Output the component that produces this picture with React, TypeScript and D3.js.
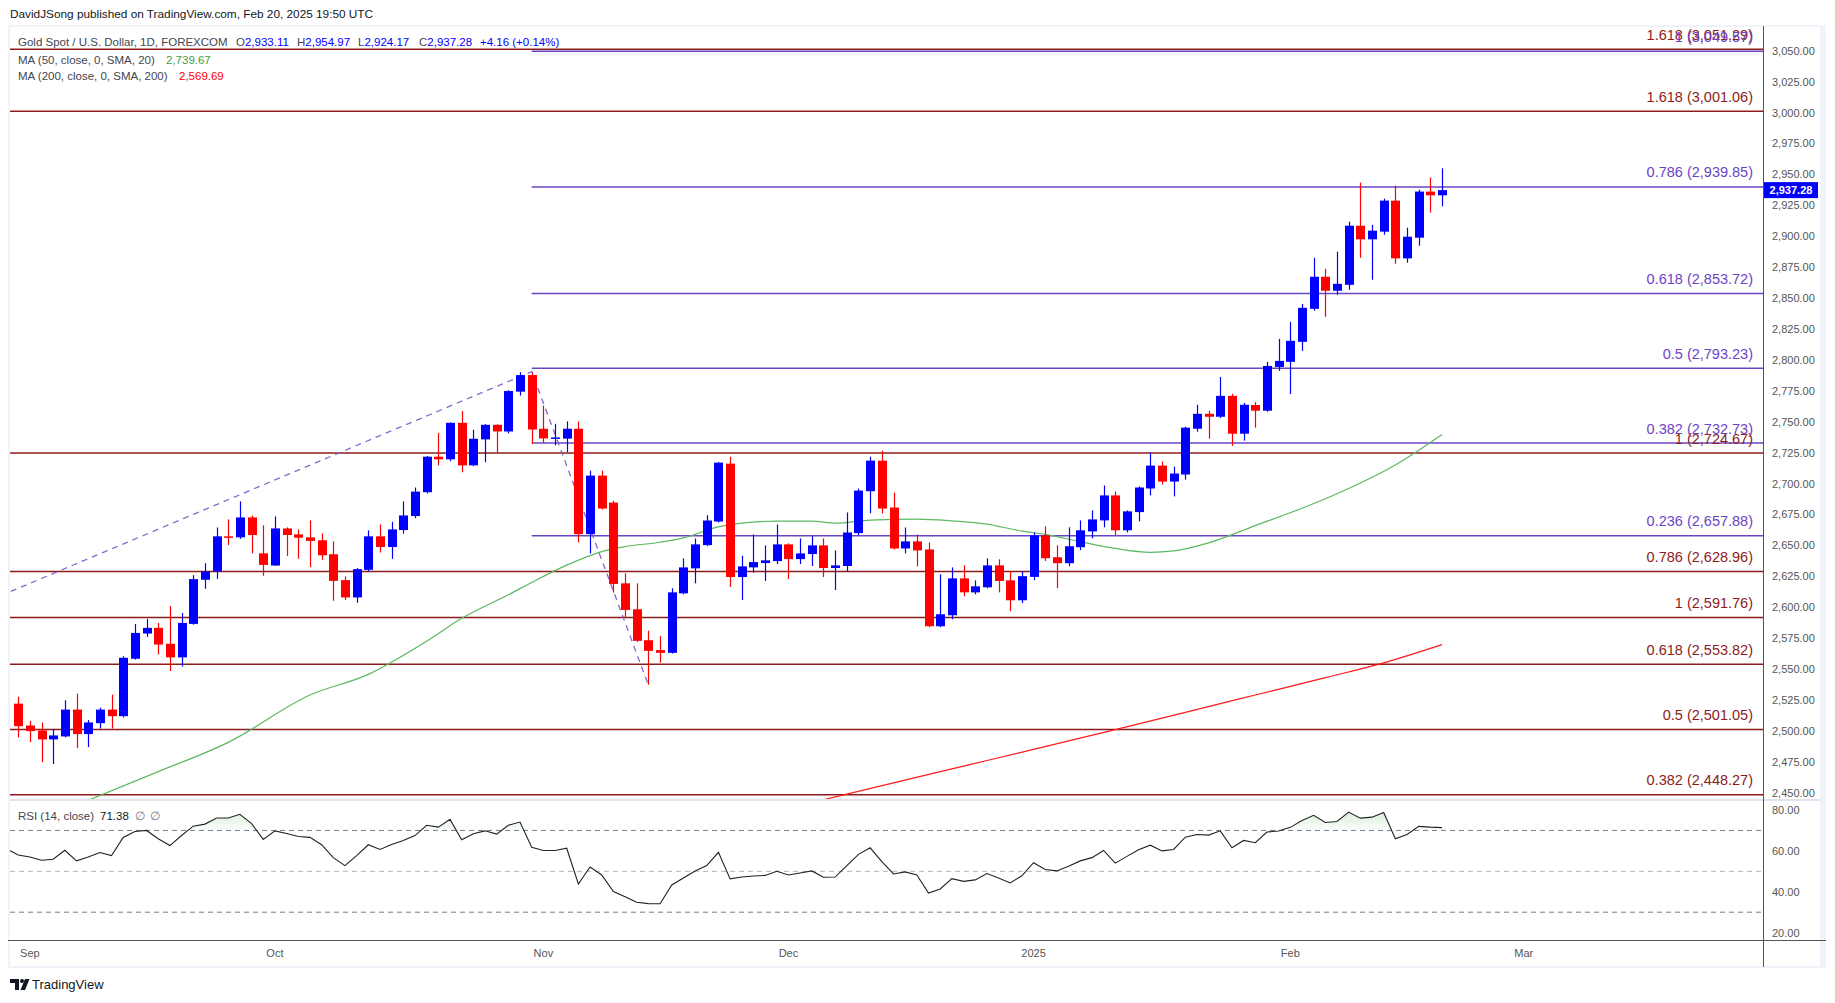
import React from 'react';
import * as d3 from 'd3';

// daily bars, Gold Spot / USD (FOREXCOM)
const dates: string[] = [
  '2024-08-30',
  '2024-09-02', '2024-09-03', '2024-09-04', '2024-09-05', '2024-09-06',
  '2024-09-09', '2024-09-10', '2024-09-11', '2024-09-12', '2024-09-13',
  '2024-09-16', '2024-09-17', '2024-09-18', '2024-09-19', '2024-09-20',
  '2024-09-23', '2024-09-24', '2024-09-25', '2024-09-26', '2024-09-27',
  '2024-09-30', '2024-10-01', '2024-10-02', '2024-10-03', '2024-10-04',
  '2024-10-07', '2024-10-08', '2024-10-09', '2024-10-10', '2024-10-11',
  '2024-10-14', '2024-10-15', '2024-10-16', '2024-10-17', '2024-10-18',
  '2024-10-21', '2024-10-22', '2024-10-23', '2024-10-24', '2024-10-25',
  '2024-10-28', '2024-10-29', '2024-10-30', '2024-10-31', '2024-11-01',
  '2024-11-04', '2024-11-05', '2024-11-06', '2024-11-07', '2024-11-08',
  '2024-11-11', '2024-11-12', '2024-11-13', '2024-11-14', '2024-11-15',
  '2024-11-18', '2024-11-19', '2024-11-20', '2024-11-21', '2024-11-22',
  '2024-11-25', '2024-11-26', '2024-11-27', '2024-11-28', '2024-11-29',
  '2024-12-02', '2024-12-03', '2024-12-04', '2024-12-05', '2024-12-06',
  '2024-12-09', '2024-12-10', '2024-12-11', '2024-12-12', '2024-12-13',
  '2024-12-16', '2024-12-17', '2024-12-18', '2024-12-19', '2024-12-20',
  '2024-12-23', '2024-12-24', '2024-12-26', '2024-12-27', '2024-12-30',
  '2024-12-31', '2025-01-02', '2025-01-03', '2025-01-06', '2025-01-07',
  '2025-01-08', '2025-01-09', '2025-01-10', '2025-01-13', '2025-01-14',
  '2025-01-15', '2025-01-16', '2025-01-17', '2025-01-20', '2025-01-21',
  '2025-01-22', '2025-01-23', '2025-01-24', '2025-01-27', '2025-01-28',
  '2025-01-29', '2025-01-30', '2025-01-31', '2025-02-03', '2025-02-04',
  '2025-02-05', '2025-02-06', '2025-02-07', '2025-02-10', '2025-02-11',
  '2025-02-12', '2025-02-13', '2025-02-14', '2025-02-17', '2025-02-18',
  '2025-02-19', '2025-02-20',
];

const opens: number[] = [
  2522.0,
  2504.3, 2500.3, 2493.1, 2495.5, 2517.2,
  2497.4, 2506.2, 2517.2, 2511.9, 2558.3,
  2578.7, 2583.3, 2570.4, 2559.4, 2586.5,
  2622.2, 2628.9, 2657.3, 2656.5, 2672.6,
  2643.6, 2633.7, 2663.7, 2658.9, 2656.5,
  2654.1, 2642.8, 2621.9, 2607.9, 2630.2,
  2657.3, 2648.7, 2662.4, 2673.7, 2693.0,
  2721.7, 2719.6, 2749.1, 2714.7, 2735.7,
  2747.5, 2742.1, 2774.3, 2787.7, 2744.3,
  2736.8, 2736.3, 2744.3, 2659.1, 2706.4,
  2684.6, 2619.3, 2598.3, 2573.3, 2565.3,
  2563.1, 2611.2, 2631.4, 2650.2, 2669.3,
  2716.1, 2624.4, 2632.2, 2635.7, 2637.3,
  2650.8, 2638.9, 2643.0, 2650.0, 2631.7,
  2633.3, 2659.9, 2693.8, 2718.5, 2680.6,
  2647.5, 2653.2, 2646.7, 2584.6, 2593.5,
  2623.3, 2612.0, 2616.1, 2633.8, 2621.7,
  2605.6, 2624.5, 2658.1, 2640.4, 2635.6,
  2648.5, 2661.3, 2670.2, 2690.4, 2662.2,
  2676.9, 2696.0, 2714.5, 2701.6, 2707.3,
  2744.3, 2756.4, 2754.0, 2770.9, 2740.3,
  2763.5, 2758.9, 2794.3, 2798.4, 2814.6,
  2841.3, 2867.2, 2855.9, 2860.7, 2908.5,
  2897.5, 2903.7, 2928.8, 2882.1, 2898.8,
  2936.1, 2933.11,
];

const highs: number[] = [
  2527.7,
  2508.1, 2506.8, 2501.4, 2524.7, 2530.1,
  2508.7, 2518.8, 2529.3, 2560.4, 2586.5,
  2590.5, 2587.3, 2600.9, 2595.3, 2625.9,
  2635.6, 2664.5, 2671.0, 2685.5, 2674.0,
  2666.2, 2673.4, 2664.5, 2662.9, 2670.2,
  2659.7, 2653.3, 2624.8, 2631.6, 2662.1,
  2667.0, 2669.1, 2685.5, 2696.8, 2722.3,
  2740.8, 2749.5, 2758.7, 2743.5, 2748.0,
  2748.0, 2775.5, 2790.1, 2789.9, 2763.1,
  2748.3, 2750.2, 2750.2, 2710.4, 2710.4,
  2686.0, 2627.4, 2619.3, 2581.1, 2576.6,
  2615.3, 2639.5, 2655.6, 2674.4, 2717.5,
  2721.7, 2641.6, 2658.8, 2650.0, 2666.9,
  2651.6, 2655.6, 2657.5, 2655.6, 2645.9,
  2676.6, 2695.9, 2721.7, 2726.6, 2692.7,
  2664.5, 2658.8, 2652.4, 2626.6, 2632.2,
  2633.8, 2621.7, 2639.5, 2638.7, 2629.0,
  2628.9, 2660.5, 2665.4, 2650.1, 2664.6,
  2670.2, 2678.3, 2698.4, 2693.6, 2678.3,
  2697.6, 2725.0, 2717.8, 2713.7, 2746.0,
  2763.7, 2758.8, 2786.2, 2772.6, 2765.3,
  2765.9, 2798.4, 2817.0, 2830.8, 2845.3,
  2882.6, 2873.7, 2887.5, 2911.8, 2943.4,
  2909.3, 2930.4, 2940.9, 2906.9, 2937.7,
  2947.4, 2954.97,
];

const lows: number[] = [
  2494.7,
  2490.9, 2474.6, 2473.2, 2494.7, 2486.1,
  2486.9, 2501.9, 2501.9, 2510.8, 2557.7,
  2576.0, 2561.8, 2548.4, 2552.1, 2585.9,
  2614.9, 2622.9, 2650.3, 2655.2, 2643.6,
  2625.4, 2633.4, 2641.5, 2639.1, 2632.4,
  2638.3, 2605.2, 2605.8, 2603.6, 2628.9,
  2644.2, 2639.1, 2659.5, 2672.0, 2692.0,
  2714.7, 2718.0, 2709.1, 2714.0, 2717.2,
  2724.9, 2740.5, 2771.1, 2732.2, 2733.0,
  2730.9, 2725.5, 2652.4, 2643.5, 2679.0,
  2611.8, 2591.1, 2572.0, 2537.3, 2555.1,
  2562.5, 2610.4, 2619.3, 2649.4, 2668.5,
  2616.4, 2605.9, 2627.9, 2621.2, 2634.9,
  2622.8, 2634.9, 2633.3, 2624.4, 2613.9,
  2628.7, 2658.3, 2676.0, 2675.8, 2646.7,
  2643.5, 2633.0, 2583.8, 2583.8, 2590.3,
  2608.8, 2610.4, 2615.3, 2612.0, 2596.7,
  2603.3, 2621.9, 2637.4, 2615.4, 2633.1,
  2646.1, 2655.7, 2664.6, 2658.1, 2660.5,
  2669.4, 2690.4, 2699.2, 2689.6, 2703.2,
  2741.9, 2736.3, 2753.0, 2730.6, 2734.7,
  2745.2, 2758.1, 2791.1, 2772.4, 2807.3,
  2839.7, 2834.8, 2852.6, 2856.7, 2882.6,
  2864.8, 2901.2, 2877.7, 2878.6, 2892.3,
  2919.1, 2924.17,
];

const closes: number[] = [
  2503.8,
  2499.8, 2493.1, 2496.3, 2517.2, 2497.4,
  2506.8, 2517.2, 2511.9, 2559.1, 2579.2,
  2583.3, 2569.8, 2559.4, 2587.3, 2622.7,
  2628.9, 2657.3, 2656.5, 2672.6, 2658.4,
  2634.2, 2663.7, 2658.4, 2656.2, 2653.6,
  2642.0, 2621.3, 2607.9, 2630.8, 2657.3,
  2648.7, 2662.9, 2674.2, 2693.5, 2721.7,
  2719.6, 2749.1, 2714.7, 2736.2, 2747.5,
  2742.1, 2774.8, 2787.7, 2743.7, 2736.5,
  2737.3, 2744.3, 2659.1, 2706.4, 2679.8,
  2618.8, 2597.8, 2572.8, 2564.7, 2563.1,
  2612.0, 2632.2, 2650.8, 2670.1, 2716.9,
  2624.4, 2633.0, 2636.5, 2637.9, 2650.8,
  2638.9, 2643.5, 2650.0, 2631.7, 2633.8,
  2660.4, 2694.3, 2718.5, 2679.8, 2647.5,
  2653.2, 2645.9, 2584.6, 2594.3, 2623.3,
  2612.0, 2616.9, 2633.8, 2621.2, 2605.6,
  2625.1, 2658.1, 2639.6, 2635.6, 2649.3,
  2662.2, 2671.0, 2690.4, 2662.2, 2677.5,
  2696.8, 2714.5, 2701.6, 2708.1, 2745.2,
  2756.4, 2754.0, 2770.9, 2740.3, 2763.7,
  2758.9, 2795.1, 2799.2, 2815.4, 2842.1,
  2867.2, 2855.9, 2861.5, 2908.5, 2897.5,
  2904.5, 2928.8, 2882.1, 2899.6, 2936.1,
  2933.1, 2937.28,
];

// RSI (14, close), one value per bar; rsiBefore is the bar left of the window
const rsiBefore = 61.0;
const rsiValues: number[] = [
  58.0,
  57.0, 55.4, 55.9, 60.3, 55.1,
  57.0, 59.2, 57.7, 66.6, 69.5,
  70.0, 65.9, 62.6, 67.5, 72.1,
  73.1, 76.1, 76.1, 77.9, 73.3,
  65.6, 69.8, 68.5, 67.0, 66.6,
  63.0, 56.7, 52.8, 57.7, 63.0,
  60.7, 63.1, 65.1, 67.5, 72.5,
  71.6, 75.4, 65.4, 68.4, 69.8,
  68.2, 72.5, 74.1, 61.8, 60.2,
  60.2, 61.3, 43.8, 52.1, 48.2,
  40.1, 37.6, 34.9, 34.2, 34.1,
  43.3, 46.7, 50.2, 52.8, 59.3,
  46.3, 47.2, 47.7, 48.0, 50.0,
  48.2, 49.2, 50.2, 47.1, 47.2,
  52.8, 58.3, 61.5, 54.7, 48.7,
  49.7, 48.2, 39.4, 41.4, 46.4,
  45.1, 45.8, 48.9, 46.7, 44.3,
  47.8, 54.2, 50.9, 50.2, 52.5,
  55.1, 56.7, 60.2, 54.0, 57.3,
  60.5, 62.8, 60.0, 60.7, 66.7,
  68.0, 67.7, 69.8, 61.5, 65.1,
  64.0, 69.2, 69.7, 71.5, 74.9,
  77.4, 73.9, 74.4, 79.0, 76.0,
  76.5, 78.8, 65.9, 68.0, 72.0,
  71.6, 71.38,
];

// moving averages, sampled along the plotted lines
const ma50Dates = [
  '2024-09-06', '2024-09-17', '2024-09-25', '2024-10-04', '2024-10-11', '2024-10-18',
  '2024-10-23', '2024-10-29', '2024-10-31', '2024-11-05', '2024-11-08', '2024-11-12',
  '2024-11-15', '2024-11-19', '2024-11-22', '2024-11-26', '2024-11-29', '2024-12-04',
  '2024-12-06', '2024-12-11', '2024-12-17', '2024-12-20', '2024-12-26', '2024-12-31',
  '2025-01-03', '2025-01-08', '2025-01-13', '2025-01-16', '2025-01-20', '2025-01-23',
  '2025-01-29', '2025-02-04', '2025-02-10', '2025-02-14', '2025-02-20',
];
const ma50Values = [
  2440.0, 2467.0, 2490.7, 2529.0, 2545.7, 2572.5,
  2591.0, 2610.0, 2620.0, 2634.0, 2645.0, 2649.0,
  2652.5, 2656.0, 2665.0, 2668.0, 2669.6, 2669.6,
  2668.0, 2670.4, 2671.2, 2669.8, 2667.2, 2661.5,
  2658.9, 2653.0, 2647.5, 2644.4, 2645.5, 2652.0,
  2666.0, 2680.0, 2696.0, 2715.0, 2739.67,
];

const ma200Dates = [
  '2024-12-05', '2024-12-13', '2024-12-23', '2025-01-02', '2025-01-13',
  '2025-01-21', '2025-01-29', '2025-02-06', '2025-02-13', '2025-02-20',
];
const ma200Values = [
  2444.3, 2458.0, 2471.5, 2485.0, 2501.0,
  2515.0, 2529.0, 2543.0, 2555.0, 2569.69,
];

// fibonacci levels
const redFibRatios = ['1.618', '1.618', '1', '0.786', '1', '0.618', '0.5', '0.382'];
const redFibPrices = [3051.29, 3001.06, 2724.67, 2628.96, 2591.76, 2553.82, 2501.05, 2448.27];
const purpleFibRatios = ['1', '0.786', '0.618', '0.5', '0.382', '0.236'];
const purpleFibPrices = [3049.57, 2939.85, 2853.72, 2793.23, 2732.73, 2657.88];
const purpleFibStart = '2024-10-31';

// dashed swing lines
const swingDates = ['2024-08-30', '2024-10-31', '2024-11-14'];
const swingPrices = [2615.3, 2790.5, 2536.9];

const priceTicks = [
  2450, 2475, 2500, 2525, 2550, 2575, 2600, 2625, 2650, 2675, 2700, 2725,
  2750, 2775, 2800, 2825, 2850, 2875, 2900, 2925, 2950, 2975, 3000, 3025, 3050,
];
const rsiTicks = [20, 40, 60, 80];
const rsiBands = [70, 50, 30];
const timeTickLabels = ['Sep', 'Oct', 'Nov', 'Dec', '2025', 'Feb', 'Mar'];
const timeTickDates = ['2024-09-02', '2024-10-01', '2024-11-01', '2024-12-02', '2025-01-02', '2025-02-03', '2025-03-03'];

const lastPrice = 2937.28;

const W = 1835;
const H = 1003;
const plotL = 10;
const plotR = 1763;
const priceTop = 26;
const priceBot = 799;
const rsiTop = 801;
const rsiBot = 940;
const axisBot = 967;

const UP = '#0000ff';
const DOWN = '#ff0000';
const FIB_RED = '#8c1c1c';
const FIB_PURPLE = '#6b44c6';
const AXIS_TEXT = '#555';
const FONT = '"Liberation Sans", Arial, sans-serif';

// bar index of a date; dates past the data count forward in weekdays
function barIndex(date: string): number {
  const i = dates.indexOf(date);
  if (i >= 0) return i;
  const last = new Date(dates[dates.length - 1] + 'T00:00:00Z');
  const target = new Date(date + 'T00:00:00Z');
  let n = dates.length - 1;
  const d = new Date(last);
  while (d < target) {
    d.setUTCDate(d.getUTCDate() + 1);
    const wd = d.getUTCDay();
    if (wd !== 0 && wd !== 6) n++;
  }
  return n;
}

const fmt = d3.format(',.2f');

const App: React.FC = () => {
  const x = d3.scaleLinear().domain([-0.7, 149.5]).range([plotL, plotR]);
  const y = d3.scaleLinear().domain([2444.9, 3070]).range([priceBot, priceTop]);
  const yr = d3.scaleLinear().domain([16.4, 84.4]).range([rsiBot, rsiTop]);

  const step = x(1) - x(0);
  const bodyW = Math.round(step * 0.73);

  const maLine = d3.line<[number, number]>()
    .x(d => x(d[0]))
    .y(d => y(d[1]))
    .curve(d3.curveMonotoneX);

  const ma50Path = maLine(ma50Dates.map((d, i) => [barIndex(d), ma50Values[i]] as [number, number])) || '';
  const ma200Path = maLine(ma200Dates.map((d, i) => [barIndex(d), ma200Values[i]] as [number, number])) || '';

  const rsiPts: [number, number][] = [[-1, rsiBefore], ...rsiValues.map((v, i) => [i, v] as [number, number])];
  const rsiLine = d3.line<[number, number]>().x(d => x(d[0])).y(d => yr(d[1]));
  const rsiArea = d3.area<[number, number]>().x(d => x(d[0])).y0(yr(70)).y1(d => yr(d[1]));

  // dashed swing lines, the first one running off the left edge
  const s0 = barIndex(swingDates[0]);
  const s1 = barIndex(swingDates[1]);
  const s2 = barIndex(swingDates[2]);
  const slope = (swingPrices[1] - swingPrices[0]) / (s1 - s0);
  const leftIdx = -1.5;
  const swingPath = d3.line<[number, number]>().x(d => x(d[0])).y(d => y(d[1]))([
    [leftIdx, swingPrices[0] + slope * (leftIdx - s0)],
    [s1, swingPrices[1]],
    [s2, swingPrices[2]],
  ]) || '';

  const fibStartX = x(barIndex(purpleFibStart));

  return (
    <svg width={W} height={H} style={{ position: 'absolute', left: 0, top: 0, background: '#fff' }} fontFamily={FONT}>
      <defs>
        <clipPath id="priceClip">
          <rect x={plotL} y={priceTop} width={plotR - plotL} height={priceBot - priceTop} />
        </clipPath>
        <clipPath id="rsiClip">
          <rect x={plotL} y={rsiTop} width={plotR - plotL} height={rsiBot - rsiTop} />
        </clipPath>
        <clipPath id="obClip">
          <rect x={plotL} y={rsiTop} width={plotR - plotL} height={yr(70) - rsiTop} />
        </clipPath>
        <linearGradient id="obFill" x1="0" y1={yr(84)} x2="0" y2={yr(70)} gradientUnits="userSpaceOnUse">
          <stop offset="0%" stopColor="#4caf50" stopOpacity={0.32} />
          <stop offset="100%" stopColor="#4caf50" stopOpacity={0.02} />
        </linearGradient>
      </defs>

      <text x={10} y={18} fontSize={11.8} fill="#131722">
        DavidJSong published on TradingView.com, Feb 20, 2025 19:50 UTC
      </text>

      {/* chart frame */}
      <rect x={8} y={25} width={1818} height={943} fill="#f0f3fa" />
      <rect x={10} y={27} width={1810} height={939} fill="#fff" />

      {/* price pane */}
      <g clipPath="url(#priceClip)">
        {redFibPrices.map((p, i) => (
          <line key={'rf' + i} x1={plotL} x2={plotR} y1={y(p)} y2={y(p)} stroke={FIB_RED} strokeWidth={1.5} />
        ))}
        {purpleFibPrices.map((p, i) => (
          <line key={'pf' + i} x1={fibStartX} x2={plotR} y1={y(p)} y2={y(p)} stroke={FIB_PURPLE} strokeWidth={1.5} />
        ))}
        <path d={swingPath} fill="none" stroke="#7e57c2" strokeWidth={1.3} strokeDasharray="6 5" opacity={0.9} />
        <path d={ma200Path} fill="none" stroke="#ff1a1a" strokeWidth={1.2} />
        <path d={ma50Path} fill="none" stroke="#5cb860" strokeWidth={1.2} />
        {dates.map((d, i) => {
          const up = closes[i] >= opens[i];
          const c = up ? UP : DOWN;
          const cx = Math.round(x(i));
          const yO = y(opens[i]);
          const yC = y(closes[i]);
          const top = Math.min(yO, yC);
          const h = Math.max(1.5, Math.abs(yO - yC));
          return (
            <g key={d}>
              <line x1={cx + 0.5} x2={cx + 0.5} y1={y(highs[i])} y2={y(lows[i])} stroke={c} strokeWidth={1.2} />
              <rect x={cx + 0.5 - bodyW / 2} y={top} width={bodyW} height={h} fill={c} />
            </g>
          );
        })}
      </g>

      {/* fib labels */}
      {redFibPrices.map((p, i) => (
        <text key={'rl' + i} x={1753} y={y(p) - 9.5} textAnchor="end" fontSize={14.5} fill={FIB_RED}>
          {`${redFibRatios[i]} (${fmt(p)})`}
        </text>
      ))}
      {purpleFibPrices.map((p, i) => (
        <text key={'pl' + i} x={1753} y={y(p) - 9.5} textAnchor="end" fontSize={14.5} fill={FIB_PURPLE}>
          {`${purpleFibRatios[i]} (${fmt(p)})`}
        </text>
      ))}

      {/* legend */}
      <text y={46} fontSize={11.5} fill="#434651">
        <tspan x={18}>Gold Spot / U.S. Dollar, 1D, FOREXCOM</tspan>
        <tspan x={236}>O</tspan><tspan fill={UP}>{fmt(opens[opens.length - 1])}</tspan>
        <tspan x={297}>H</tspan><tspan fill={UP}>{fmt(highs[highs.length - 1])}</tspan>
        <tspan x={358}>L</tspan><tspan fill={UP}>{fmt(lows[lows.length - 1])}</tspan>
        <tspan x={419}>C</tspan><tspan fill={UP}>{fmt(closes[closes.length - 1])}</tspan>
        <tspan x={480} fill={UP}>+4.16 (+0.14%)</tspan>
      </text>
      <text y={64} fontSize={11.5} fill="#434651">
        <tspan x={18}>MA (50, close, 0, SMA, 20)</tspan>
        <tspan x={166} fill="#43a047">{fmt(ma50Values[ma50Values.length - 1])}</tspan>
      </text>
      <text y={80} fontSize={11.5} fill="#434651">
        <tspan x={18}>MA (200, close, 0, SMA, 200)</tspan>
        <tspan x={179} fill="#ff0000">{fmt(ma200Values[ma200Values.length - 1])}</tspan>
      </text>

      {/* pane separator */}
      <line x1={plotL} x2={1820} y1={800} y2={800} stroke="#e0e3eb" strokeWidth={2} />

      {/* RSI pane */}
      {rsiBands.map(b => (
        <line key={'b' + b} x1={plotL} x2={plotR} y1={yr(b)} y2={yr(b)}
          stroke={b === 50 ? '#b2b5be' : '#787b86'} strokeWidth={1} strokeDasharray="5 4" />
      ))}
      <g clipPath="url(#rsiClip)">
        <g clipPath="url(#obClip)">
          <path d={rsiArea(rsiPts) || ''} fill="url(#obFill)" />
        </g>
        <path d={rsiLine(rsiPts) || ''} fill="none" stroke="#222" strokeWidth={1.1} />
      </g>
      <text y={820} fontSize={11.5} fill="#434651">
        <tspan x={18}>RSI (14, close)</tspan>
        <tspan dx={6} fill="#131722">{rsiValues[rsiValues.length - 1].toFixed(2)}</tspan>
        <tspan dx={6} fill="#787b86">∅</tspan>
        <tspan dx={5} fill="#787b86">∅</tspan>
      </text>

      {/* axes */}
      <line x1={8} x2={1826} y1={rsiBot + 0.5} y2={rsiBot + 0.5} stroke="#555" strokeWidth={1} />
      <line x1={plotR + 0.5} x2={plotR + 0.5} y1={26} y2={axisBot} stroke="#555" strokeWidth={1} />
      {priceTicks.map(t => (
        <text key={'pt' + t} x={1772} y={y(t) + 4} fontSize={11} fill={AXIS_TEXT}>{fmt(t)}</text>
      ))}
      {rsiTicks.map(t => (
        <text key={'rt' + t} x={1772} y={yr(t) + 4} fontSize={11} fill={AXIS_TEXT}>{fmt(t)}</text>
      ))}
      {timeTickLabels.map((l, i) => (
        <text key={'tt' + l} x={x(barIndex(timeTickDates[i]))} y={957} textAnchor="middle" fontSize={11} fill={AXIS_TEXT}>{l}</text>
      ))}

      {/* last price marker */}
      <rect x={plotR + 1} y={y(lastPrice) - 8} width={54} height={16} fill={UP} />
      <text x={plotR + 28} y={y(lastPrice) + 4} textAnchor="middle" fontSize={11} fontWeight="bold" fill="#fff">
        {fmt(lastPrice)}
      </text>

      {/* footer logo */}
      <g fill="#131722">
        <path d="M10 979 h9 v11 h-4 v-7 h-5 z" />
        <circle cx={22} cy={981} r={2} />
        <path d="M25 979 h4.5 l-4.5 11 h-4.5 z" />
      </g>
      <text x={32} y={989} fontSize={13} fill="#131722">TradingView</text>
    </svg>
  );
};

export default App;
